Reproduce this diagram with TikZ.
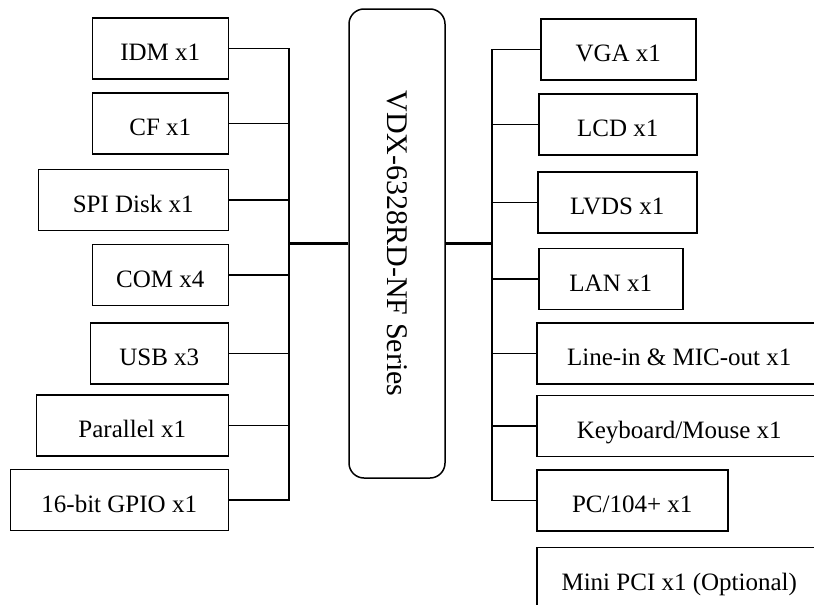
\documentclass[tikz,border=0pt]{standalone}
\usepackage{fontspec}
\setmainfont{Liberation Serif}
\tikzset{
  unit/.style={draw, rectangle, line width=1.5pt, inner sep=0pt, minimum height=61pt,
    font=\fontsize{25}{30}\selectfont, text height=27pt, text depth=3pt},
  link/.style={line width=1.5pt, line cap=rect},
  trunk/.style={line width=2.2pt},
}
\begin{document}
\begin{tikzpicture}[x=1pt,y=-1pt]
      \useasboundingbox (0,0) rectangle (814,605);
      \clip (0,0) rectangle (814,605);
      \node(hub)[draw, line width=1.5pt, rounded corners=15pt, inner sep=0pt,
        minimum width=96pt, minimum height=469pt, font=\fontsize{30}{36}\selectfont]
        at (397,243.5) {\rotatebox{-90}{VDX-6328RD-NF Series}};
      \coordinate(busL) at (289,243.5);
      \coordinate(busR) at (492,243.5);
      \foreach \x/\w/\y/\t in{1/136/48.5/IDM x1, 2/136/123.5/CF x1, 3/190/200/SPI Disk x1,
          4/136/275/COM x4, 5/138/353.5/USB x3, 6/192/425.5/Parallel x1, 7/218/500/16-bit GPIO x1}{
        \node(L\x)[unit, minimum width=\w pt, anchor=east] at (229,\y) {\t};
        \draw[link](L\x.east) -- (L\x.east -| busL);
      }
      \foreach \x/\l/\w/\y/\t in{1/540/155/49.5/VGA x1, 2/538/158/124.5/LCD x1, 3/537/159/202.5/LVDS x1,
          4/538/144/279/LAN x1, 5/536/285/353.5/Line-in \& MIC-out x1, 6/536/285/426/{Keyboard/Mouse x1},
          7/536/191/500.5/{PC/104+ x1}, 8/536/285/578/Mini PCI x1 (Optional)}{
        \node(R\x)[unit, minimum width=\w pt, anchor=west] at (\l,\y) {\t};
      }
      \foreach \x in{1,...,7}{
        \draw[link](R\x.west) -- (R\x.west -| busR);
      }
      \draw[link](L1.east -| busL) -- (L7.east -| busL);
      \draw[link](R1.west -| busR) -- (R7.west -| busR);
      \draw[trunk](busL) -- (hub.west);
      \draw[trunk](hub.east) -- (busR);
    \end{tikzpicture}
\end{document}
